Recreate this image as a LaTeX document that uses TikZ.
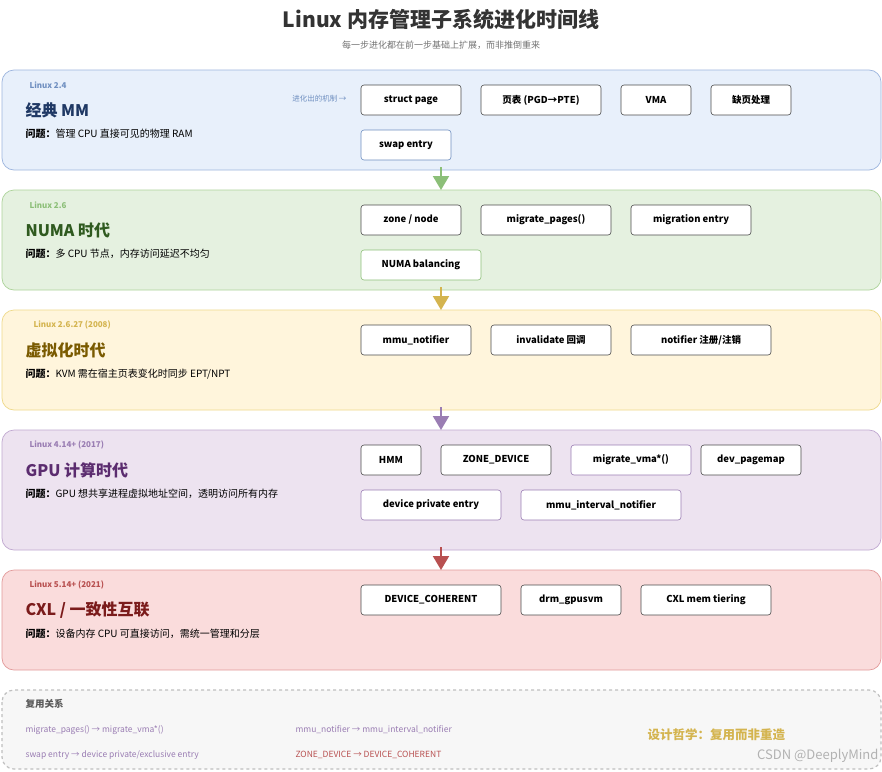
\documentclass[tikz,border=0pt]{standalone}
\usepackage{fontspec}
\setmainfont{Noto Sans CJK SC}
\definecolor{bF}{HTML}{E8F0FB}\definecolor{bD}{HTML}{9DB5DE}\definecolor{bT}{HTML}{1F3864}\definecolor{bL}{HTML}{6F8FC0}
\definecolor{gF}{HTML}{E5F1E0}\definecolor{gD}{HTML}{ADD39A}\definecolor{gT}{HTML}{2F5A1F}\definecolor{gL}{HTML}{8CBF78}
\definecolor{yF}{HTML}{FFF5DC}\definecolor{yD}{HTML}{EED98A}\definecolor{yT}{HTML}{7A5A00}\definecolor{yL}{HTML}{D4B44F}
\definecolor{pF}{HTML}{EDE3F0}\definecolor{pD}{HTML}{C0A8D0}\definecolor{pT}{HTML}{5B2C6F}\definecolor{pL}{HTML}{9A7DB3}
\definecolor{rF}{HTML}{FADCDC}\definecolor{rD}{HTML}{E29A9A}\definecolor{rT}{HTML}{7B1B1B}\definecolor{rL}{HTML}{B85050}
\tikzset{x=1pt,y=-1pt,
 panel/.style={rounded corners=12pt,line width=0.7pt},
 mbox/.style={draw=#1,fill=white,rounded corners=3pt,line width=0.6pt,font=\fontsize{9.5}{11}\selectfont\bfseries,inner sep=0pt},
 ver/.style={anchor=west,font=\fontsize{8}{9}\selectfont\bfseries},
 ptitle/.style={anchor=west,font=\fontsize{16}{18}\selectfont\bfseries},
 prob/.style={anchor=west,font=\fontsize{10}{12}\selectfont},
 flow/.style={-{Triangle[length=14pt,width=16pt]},line width=2pt,shorten <=-4pt},
 reuse/.style={anchor=west,font=\fontsize{8.5}{10}\selectfont}}
\usetikzlibrary{arrows.meta}
\begin{document}
\begin{tikzpicture}
\useasboundingbox (0,0) rectangle (882,771);
\fill[white] (0,0) rectangle (882,771);
\node[font=\fontsize{21}{24}\selectfont\bfseries,text=black!80] (title) at (441,19) {Linux 内存管理子系统进化时间线};
\node[font=\fontsize{9}{11}\selectfont,text=black!55] (sub) at (441,45) {每一步进化都在前一步基础上扩展，而非推倒重来};
% panels
\draw[panel,fill=bF,draw=bD] (2,70) rectangle (881,170);
\draw[panel,fill=gF,draw=gD] (2,190) rectangle (881,290);
\draw[panel,fill=yF,draw=yD] (2,310) rectangle (881,410);
\draw[panel,fill=pF,draw=pD] (2,430) rectangle (881,550);
\draw[panel,fill=rF,draw=rD] (2,570) rectangle (881,670);
\draw[panel,fill=black!3,draw=black!25,dashed,line width=1.2pt] (2,690) rectangle (881,769);
% texts
\node[ver,text=bL] (v1) at (26,85) {Linux 2.4};
\node[ptitle,text=bT] (t1) at (22,110) {经典 MM};
\node[prob] (p1) at (22,134) {\textbf{问题：}管理 CPU 直接可见的物理 RAM};
\node[anchor=east,font=\fontsize{7.5}{9}\selectfont\itshape,text=bL] (evo) at (350,99) {进化出的机制 →};
\node[ver,text=gL] (v2) at (26,205) {Linux 2.6};
\node[ptitle,text=gT] (t2) at (22,230) {NUMA 时代};
\node[prob] (p2) at (22,254) {\textbf{问题：}多 CPU 节点，内存访问延迟不均匀};
\node[ver,text=yL] (v3) at (30,325) {Linux 2.6.27 (2008)};
\node[ptitle,text=yT] (t3) at (22,350) {虚拟化时代};
\node[prob] (p3) at (22,374) {\textbf{问题：}KVM 需在宿主页表变化时同步 EPT/NPT};
\node[ver,text=pL] (v4) at (26,445) {Linux 4.14+ (2017)};
\node[ptitle,text=pT] (t4) at (22,470) {GPU 计算时代};
\node[prob] (p4) at (22,494) {\textbf{问题：}GPU 想共享进程虚拟地址空间，透明访问所有内存};
\node[ver,text=rL] (v5) at (26,585) {Linux 5.14+ (2021)};
\node[ptitle,text=rT] (t5) at (22,610) {CXL / 一致性互联};
\node[prob] (p5) at (22,634) {\textbf{问题：}设备内存 CPU 可直接访问，需统一管理和分层};
% boxes
\node[mbox=black!70,minimum width=100,minimum height=30] (a1) at (411,100) {struct page};
\node[mbox=black!70,minimum width=120,minimum height=30] (a2) at (541,100) {页表 (PGD→PTE)};
\node[mbox=black!70,minimum width=70,minimum height=30] (a3) at (656,100) {VMA};
\node[mbox=black!70,minimum width=80,minimum height=30] (a4) at (751,100) {缺页处理};
\node[mbox=bL,minimum width=90,minimum height=30] (a5) at (406,145) {swap entry};
\node[mbox=black!70,minimum width=100,minimum height=30] (b1) at (411,220) {zone / node};
\node[mbox=black!70,minimum width=130,minimum height=30] (b2) at (546,220) {migrate\_pages()};
\node[mbox=black!70,minimum width=120,minimum height=30] (b3) at (691,220) {migration entry};
\node[mbox=gL,minimum width=120,minimum height=30] (b4) at (421,265) {NUMA balancing};
\node[mbox=black!70,minimum width=110,minimum height=30] (c1) at (416,340) {mmu\_notifier};
\node[mbox=black!70,minimum width=120,minimum height=30] (c2) at (551,340) {invalidate 回调};
\node[mbox=black!70,minimum width=140,minimum height=30] (c3) at (701,340) {notifier 注册/注销};
\node[mbox=black!70,minimum width=60,minimum height=30] (d1) at (391,460) {HMM};
\node[mbox=black!70,minimum width=110,minimum height=30] (d2) at (496,460) {ZONE\_DEVICE};
\node[mbox=pL,minimum width=120,minimum height=30] (d3) at (631,460) {migrate\_vma*()};
\node[mbox=black!70,minimum width=100,minimum height=30] (d4) at (751,460) {dev\_pagemap};
\node[mbox=pL,minimum width=140,minimum height=30] (d5) at (431,505) {device private entry};
\node[mbox=pL,minimum width=160,minimum height=30] (d6) at (601,505) {mmu\_interval\_notifier};
\node[mbox=black!70,minimum width=140,minimum height=30] (e1) at (431,600) {DEVICE\_COHERENT};
\node[mbox=black!70,minimum width=100,minimum height=30] (e2) at (571,600) {drm\_gpusvm};
\node[mbox=black!70,minimum width=130,minimum height=30] (e3) at (706,600) {CXL mem tiering};
% flow arrows
\coordinate (f1) at (441,171);\coordinate (g1) at (441,190);
\coordinate (f2) at (441,291);\coordinate (g2) at (441,310);
\coordinate (f3) at (441,411);\coordinate (g3) at (441,430);
\coordinate (f4) at (441,551);\coordinate (g4) at (441,570);
\draw[flow,draw=gL,fill=gL] (f1) -- (g1);
\draw[flow,draw=yL,fill=yL] (f2) -- (g2);
\draw[flow,draw=pL,fill=pL] (f3) -- (g3);
\draw[flow,draw=rL,fill=rL] (f4) -- (g4);
% reuse
\node[anchor=west,font=\fontsize{9.5}{11}\selectfont\bfseries,text=black!65] (rt) at (22,704) {复用关系};
\node[reuse,text=pL] (r1) at (22,730) {migrate\_pages() → migrate\_vma*()};
\node[reuse,text=pL] (r2) at (22,755) {swap entry → device private/exclusive entry};
\node[reuse,text=pL] (r3) at (292,730) {mmu\_notifier → mmu\_interval\_notifier};
\node[reuse,text=rL] (r4) at (292,755) {ZONE\_DEVICE → DEVICE\_COHERENT};
\node[anchor=west,font=\fontsize{12.5}{14}\selectfont\bfseries,text=yL] (ph) at (644,735) {设计哲学：复用而非重造};
\node[anchor=east,font=\fontsize{13}{15}\selectfont,text=black!30] (wm) at (882,756) {CSDN @DeeplyMind};
\end{tikzpicture}
\end{document}
